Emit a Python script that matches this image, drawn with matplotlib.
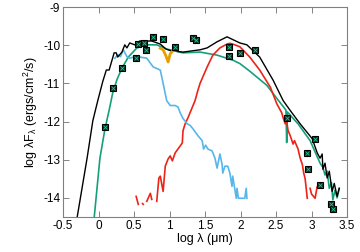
#!/usr/bin/env python3

import numpy as np
import matplotlib
matplotlib.use("Agg")
import matplotlib.pyplot as plt

plt.rcParams["font.family"] = ["Liberation Sans", "DejaVu Sans"]
plt.rcParams["axes.unicode_minus"] = False
plt.rcParams["mathtext.fontset"] = "custom"
plt.rcParams["mathtext.rm"] = "Liberation Sans"
plt.rcParams["mathtext.it"] = "Liberation Sans"

nan = np.nan

# total model (black)
total_x = [-0.30, -0.16, -0.08, -0.01, 0.06, 0.11, 0.15, 0.22, 0.25, 0.27, 0.33, 0.37, 0.40,
           0.44, 0.51, 0.58, 0.65, 0.75, 0.87, 0.95, 1.01, 1.19, 1.43, 1.53, 1.67, 1.81,
           1.99, 2.09, 2.27, 2.46, 2.60, 2.70, 2.84, 3.01, 3.08, 3.12, 3.15, 3.16, 3.19,
           3.22, 3.25, 3.29, 3.32, 3.36, 3.39]
total_y = [-14.5, -12.95, -11.98, -11.45, -10.95, -10.65, -10.65, -10.2, -10.2, -10.31, -10.18,
           -9.99, -10.07, -9.94, -9.99, -9.89, -9.89, -9.89, -9.97, -10.1, -10.14, -10.18,
           -10.12, -10.07, -9.91, -9.78, -9.94, -9.99, -10.31, -10.92, -11.45, -11.71, -12.06,
           -12.45, -12.82, -12.96, -12.85, -13.25, -13.09, -13.48, -13.3, -13.83, -13.62,
           -13.96, -13.75]

# disk component (green)
disk_x = [-0.06, 0.02, 0.09, 0.15, 0.20, 0.26, 0.33, 0.42, 0.54, 0.68, 0.82, 0.96, 1.19, 1.43,
          1.67, 1.89, 1.99, 2.13, 2.37, 2.51, 2.64, 2.65, 2.66, 2.81, 2.98, 3.12, 3.16, 3.19,
          3.22, 3.25, 3.28, 3.30, 3.33, 3.36, 3.39]
disk_y = [-14.5, -12.96, -12.2, -11.7, -11.25, -10.9, -10.6, -10.31, -10.07, -9.99, -9.99,
          -10.1, -10.2, -10.18, -10.26, -10.39, -10.48, -10.68, -11.05, -11.39, -11.7, -12.55,
          -11.75, -12.06, -12.5, -13.09, -13.2, -13.4, -13.3, -13.75, -13.6, -14.05, -13.8,
          -14.0, -13.75]

# envelope component (red)
env_x = [0.53, 0.56, nan, 0.62, 0.63, nan, 0.68, 0.73, 0.75, nan, 0.82, 0.85, 0.87, 0.91,
         0.94, 0.98, 1.01, 1.04, 1.08, 1.15, 1.18, 1.19, 1.22, 1.26, 1.32, 1.36, 1.40, 1.43,
         1.53, 1.61, 1.71, 1.81, 1.85, 1.89, 1.99, 2.13, 2.27, 2.42, 2.51, 2.58, 2.60, 2.63,
         2.65, 2.67, 2.70, 2.74, 2.76, 2.81, 2.84, 2.87, 2.89, 2.91, 2.94, nan, 2.98, 3.00,
         3.05, 3.08, 3.09]
env_y = [-13.96, -14.17, nan, -14.15, -14.17, nan, -14.09, -13.88, -14.04, nan, -14.09,
         -13.48, -13.43, -13.83, -13.17, -12.98, -12.90, -13.03, -12.82, -12.64, -12.56,
         -12.24, -12.06, -11.9, -11.63, -11.45, -11.18, -11.0, -10.57, -10.26, -10.07, -9.97,
         -9.95, -9.97, -10.04, -10.31, -10.65, -11.1, -11.53, -11.77, -11.9, -12.06, -12.0,
         -12.24, -12.37, -12.59, -12.5, -12.72, -12.96, -13.12, -13.35, -13.5, -14.01, nan,
         -13.75, -13.9, -14.01, -13.7, -13.72]

# stellar photosphere (blue)
star_x = [0.23, 0.27, 0.31, 0.35, 0.40, 0.44, 0.49, 0.53, 0.58, 0.68, 0.77, 0.87, 0.91, 0.96,
          1.01, 1.08, 1.12, 1.15, 1.19, 1.25, 1.29, 1.33, 1.40, 1.46, 1.48, 1.51, 1.54, 1.60,
          1.64, 1.67, 1.71, 1.74, 1.75, 1.78, 1.82, 1.85, 1.88, 1.89, 1.94, 1.95, 1.97, 2.06,
          2.08, 2.09]
star_y = [-10.34, -10.25, -10.3, -10.12, -10.3, -10.34, -10.31, -10.38, -10.31, -10.34,
          -10.57, -10.65, -11.0, -11.45, -11.58, -11.58, -11.62, -11.77, -11.92, -12.06,
          -12.1, -12.19, -12.37, -12.5, -12.72, -12.62, -12.72, -12.77, -12.96, -13.22,
          -12.85, -13.12, -13.35, -13.17, -13.17, -13.35, -13.7, -13.43, -14.01, -13.75,
          -14.01, -14.01, -13.75, -14.01]

# silicate feature (orange)
sil_x = [0.87, 0.91, 0.95, 0.98, 1.01, 1.05, 1.11]
sil_y = [-10.08, -10.12, -10.28, -10.44, -10.22, -10.14, -10.12]

# observed photometry
obs_x = [0.09, 0.20, 0.33, 0.53, 0.55, 0.64, 0.67, 0.77, 0.91, 1.08, 1.33, 1.37, 1.84, 1.84,
         1.99, 2.20, 2.65, 2.94, 2.95, 3.05, 3.12, 3.27, 3.30]
obs_y = [-12.13, -11.13, -10.6, -10.34, -9.97, -9.94, -10.12, -9.78, -9.83, -10.04, -9.8,
         -9.86, -10.05, -10.28, -10.2, -10.12, -11.9, -12.82, -13.25, -12.45, -13.65, -14.17,
         -14.28]

fig = plt.figure(figsize=(3.6, 2.52), dpi=100)
ax = fig.add_axes([0.175, 0.139, 0.789, 0.833])

ax.plot(disk_x, disk_y, color="#15a07a", lw=1.2)
ax.plot(env_x, env_y, color="#ec2418", lw=1.2)
ax.plot(star_x, star_y, color="#58b6ea", lw=1.2)
ax.plot(total_x, total_y, color="black", lw=1.0)
ax.plot(sil_x, sil_y, color="#e69f00", lw=2.0)
ax.plot(obs_x, obs_y, "s", ms=4.3, mfc="#0b2a22", mec="black", mew=0.8, ls="none")
ax.plot(obs_x, obs_y, "x", ms=2.2, color="#27c08f", mew=0.6, ls="none")

ax.set_xlim(-0.5, 3.5)
ax.set_ylim(-14.5, -9)
ax.set_xticks(np.arange(-0.5, 3.51, 0.5))
ax.set_xticklabels(["-0.5", "0", "0.5", "1", "1.5", "2", "2.5", "3", "3.5"])
ax.set_yticks([-14, -13, -12, -11, -10, -9])
ax.set_yticklabels(["-14", "-13", "-12", "-11", "-10", "-9"])
ax.tick_params(direction="in", top=True, right=True, length=4, width=0.6,
               color="#707070", labelsize=8.5, pad=2)
for s in ax.spines.values():
    s.set_color("#808080")
    s.set_linewidth(0.8)

ax.set_xlabel("log λ (μm)", fontsize=9, labelpad=1)
ax.set_ylabel("log λF$_λ$ (ergs/cm$^2$/s)", fontsize=9, labelpad=2)

plt.savefig("out.png", dpi=100)
